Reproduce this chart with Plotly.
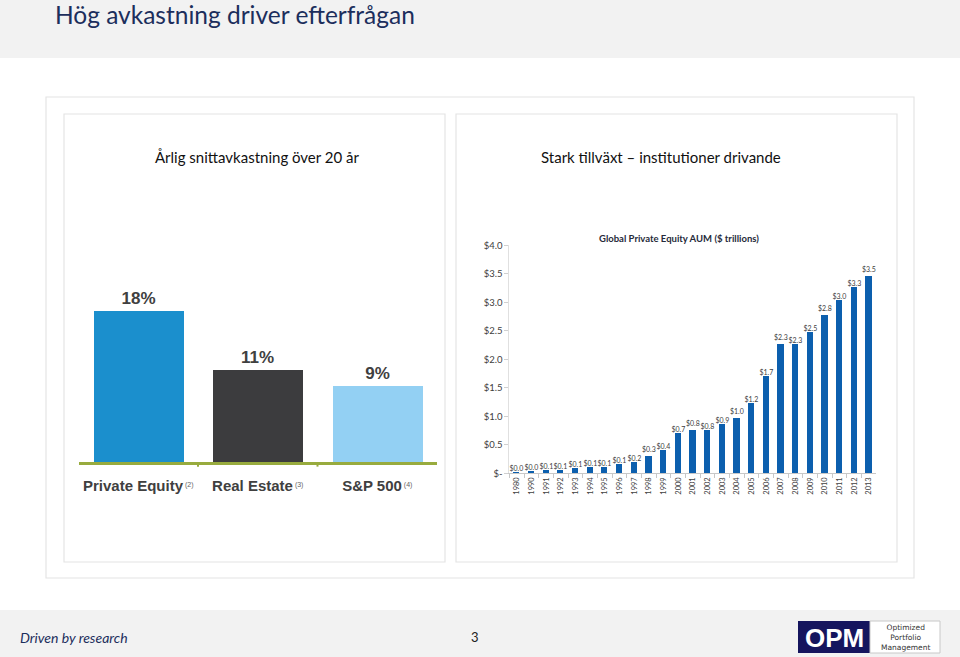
import plotly.graph_objects as go

# ---------------- data ----------------
return_categories = ["Private Equity", "Real Estate", "S&P 500"]
return_footnotes = ["(2)", "(3)", "(4)"]
return_values = [18, 11, 9]
return_colors = ["#1b8fcd", "#3c3c3e", "#93d0f3"]

aum_years = ["1980", "1990", "1991", "1992", "1993", "1994", "1995", "1996", "1997",
             "1998", "1999", "2000", "2001", "2002", "2003", "2004", "2005", "2006",
             "2007", "2008", "2009", "2010", "2011", "2012", "2013"]
aum_values = [0.005, 0.04, 0.05, 0.06, 0.08, 0.10, 0.11, 0.15, 0.20,
              0.30, 0.41, 0.71, 0.75, 0.76, 0.86, 0.96, 1.23, 1.70,
              2.27, 2.27, 2.47, 2.77, 3.03, 3.27, 3.46]
aum_labels = ["$0.0", "$0.0", "$0.1", "$0.1", "$0.1", "$0.1", "$0.1", "$0.1", "$0.2",
              "$0.3", "$0.4", "$0.7", "$0.8", "$0.8", "$0.9", "$1.0", "$1.2", "$1.7",
              "$2.3", "$2.3", "$2.5", "$2.8", "$3.0", "$3.3", "$3.5"]
aum_ticks = [0, 0.5, 1.0, 1.5, 2.0, 2.5, 3.0, 3.5, 4.0]
aum_tick_labels = ["$-", "$0.5", "$1.0", "$1.5", "$2.0", "$2.5", "$3.0", "$3.5", "$4.0"]

W, H = 960, 657


def fx(x):
    return x / W


def fy(y):
    return 1 - y / H


fig = go.Figure()

# left chart: average annual return
fig.add_trace(go.Bar(
    x=return_categories, y=return_values,
    marker=dict(color=return_colors, line=dict(width=0)),
    width=0.75,
    text=[f"{v}%" for v in return_values],
    textposition="outside", cliponaxis=False, constraintext="none",
    textfont=dict(family="Liberation Sans", size=17, color="#404040", weight="bold"),
    xaxis="x", yaxis="y", showlegend=False, hoverinfo="skip",
))

# right chart: global PE AUM
fig.add_trace(go.Bar(
    x=aum_years, y=aum_values,
    marker=dict(color="#0c5fae", line=dict(width=0)),
    width=0.42,
    text=aum_labels,
    textposition="outside", cliponaxis=False, constraintext="none",
    textfont=dict(family="Lato", size=7, color="#404040"),
    xaxis="x2", yaxis="y2", showlegend=False, hoverinfo="skip",
))

GREEN = "#98ab3e"

shapes = []


def rect(x0, y0, x1, y1, fill=None, line=None, lw=1, layer="below"):
    shapes.append(dict(type="rect", xref="paper", yref="paper",
                       x0=fx(x0), x1=fx(x1), y0=fy(y1), y1=fy(y0),
                       fillcolor=fill if fill else "rgba(0,0,0,0)",
                       line=dict(color=line if line else "rgba(0,0,0,0)", width=lw if line else 0),
                       layer=layer))


# slide background bands and frames
rect(0, 0, 960, 58, fill="#f2f2f2")
rect(0, 610, 960, 657, fill="#f2f2f2")
rect(46, 97, 914, 578, line="#e4e4e4", lw=1.2)
rect(64, 114, 445, 562, line="#e4e4e4", lw=1.2)
rect(456, 114, 897, 562, line="#e4e4e4", lw=1.2)
# logo boxes
rect(798, 621, 870, 653, fill="#15155e", layer="above")
rect(870, 621, 940, 653, fill="#ffffff", line="#c8c8c8", lw=1, layer="above")

# tick marks between categories on the green axis
for b in [0.5, 1.5]:
    shapes.append(dict(type="line", xref="x", yref="y domain", x0=b, x1=b, y0=0, y1=-0.025,
                       line=dict(color=GREEN, width=2)))


def ann(text, x, y, size, color, family="Lato", xanchor="center"):
    return dict(text=text, x=fx(x), y=fy(y), xref="paper", yref="paper",
                xanchor=xanchor, yanchor="middle", showarrow=False,
                font=dict(family=family, size=size, color=color))


annotations = [
    ann("Hög avkastning driver efterfrågan", 53, 14, 24.5, "#1c2e5c", xanchor="left"),
    ann("Årlig snittavkastning över 20 år", 257, 157, 15, "#111111"),
    ann("Stark tillväxt – institutioner drivande", 661, 157, 15, "#111111"),
    ann("<b>Global Private Equity AUM ($ trillions)</b>", 679, 238, 9.5, "#262a3a"),
    ann("<i>Driven by research</i>", 18, 637, 14, "#1c2e5c", xanchor="left"),
    ann("3", 475, 637, 13, "#222222"),
    ann("<b>OPM</b>", 834, 637.5, 26, "#ffffff", family="Liberation Sans"),
    ann("Optimized<br>Portfolio<br>Management", 905, 637, 7.5, "#333333", family="DejaVu Sans"),
]

left_ticktext = [f"<b>{c}</b><span style='font-size:10px;color:#666666'><sup> {n}</sup></span>"
                 for c, n in zip(return_categories, return_footnotes)]

fig.update_layout(
    width=W, height=H,
    margin=dict(l=0, r=0, t=0, b=0, pad=0, autoexpand=False),
    paper_bgcolor="#ffffff", plot_bgcolor="rgba(0,0,0,0)",
    shapes=shapes, annotations=annotations,
    bargap=0,
    xaxis=dict(domain=[fx(78.5), fx(437)], anchor="y", type="category", range=[-0.5, 2.5],
               showline=True, linecolor=GREEN, linewidth=2.5, ticks="", showgrid=False, zeroline=False,
               tickvals=return_categories, ticktext=left_ticktext, ticklabelstandoff=8,
               tickfont=dict(family="Liberation Sans", size=15, color="#404040"), fixedrange=True,
               automargin=False),
    yaxis=dict(domain=[fy(462), fy(462 - 22 * 8.42)], anchor="x", range=[0, 22], visible=False,
               fixedrange=True, automargin=False),
    xaxis2=dict(domain=[fx(509.4), fx(876.3)], anchor="y2", type="category", range=[-0.5, 24.5],
                showline=True, linecolor="#c8c8c8", linewidth=1, ticks="outside", tickson="boundaries",
                ticklen=4, tickcolor="#c8c8c8", tickangle=-90, showgrid=False, zeroline=False,
                tickfont=dict(family="Lato", size=7.5, color="#404040"), fixedrange=True,
                automargin=False),
    yaxis2=dict(domain=[fy(473.3), fy(473.3 - 4 * 57)], anchor="x2", range=[0, 4],
                tickvals=aum_ticks, ticktext=aum_tick_labels, showline=True, linecolor="#e0e0e0",
                ticks="outside", ticklen=4, tickcolor="#d0d0d0", showgrid=False, zeroline=False,
                tickfont=dict(family="Lato", size=9.5, color="#404040"), fixedrange=True,
                automargin=False),
)

fig.write_html("out.html", config={"displayModeBar": False},
               post_script="document.body.style.margin='0';document.body.style.padding='0';"
                           "document.body.style.overflow='hidden';")
